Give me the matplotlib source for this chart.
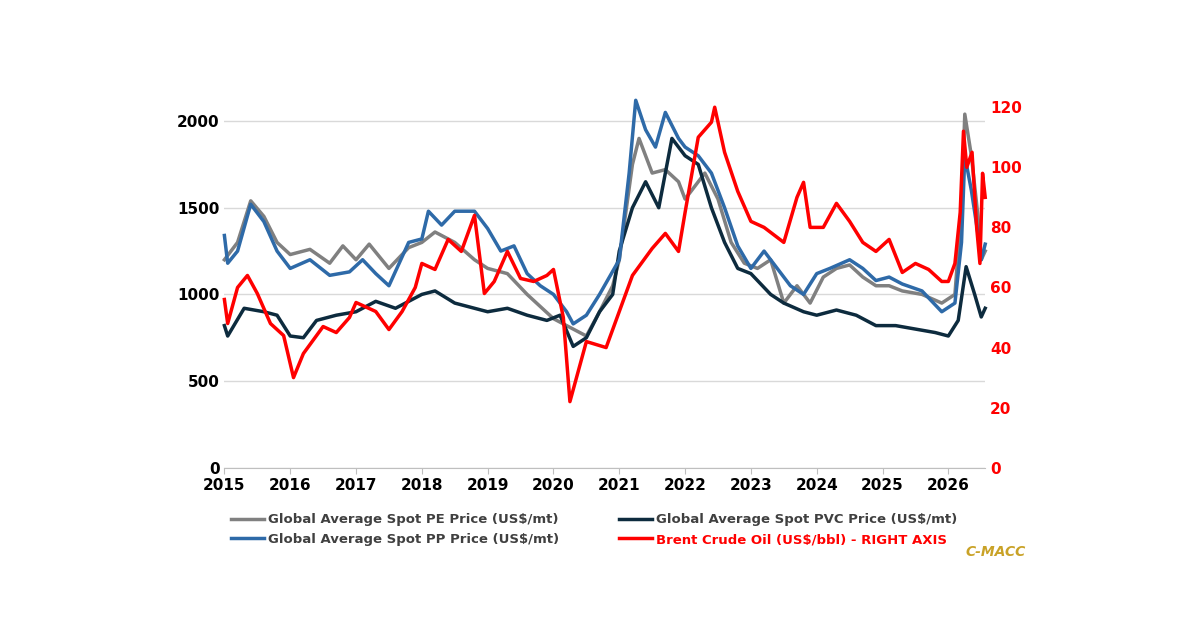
import matplotlib
matplotlib.use("Agg")
import matplotlib.pyplot as plt

pe_t = [2015.0,2015.2,2015.4,2015.6,2015.8,2016.0,2016.3,2016.6,2016.8,2017.0,2017.2,2017.5,2017.8,2018.0,2018.2,2018.5,2018.8,2019.0,2019.3,2019.6,2019.8,2020.0,2020.3,2020.5,2020.7,2020.9,2021.0,2021.2,2021.3,2021.5,2021.7,2021.9,2022.0,2022.3,2022.5,2022.7,2022.9,2023.1,2023.3,2023.5,2023.7,2023.9,2024.1,2024.3,2024.5,2024.7,2024.9,2025.1,2025.3,2025.6,2025.9,2026.1,2026.2,2026.25,2026.35,2026.45,2026.5,2026.56]
pe_v = [1200,1300,1540,1450,1300,1230,1260,1180,1280,1200,1290,1150,1270,1300,1360,1300,1200,1150,1120,1000,930,860,800,760,900,1050,1200,1750,1900,1700,1720,1650,1550,1700,1550,1300,1180,1150,1200,950,1050,950,1100,1150,1170,1100,1050,1050,1020,1000,950,1000,1500,2040,1800,1450,1200,1250]

pp_t = [2015.0,2015.05,2015.2,2015.4,2015.6,2015.8,2016.0,2016.3,2016.6,2016.9,2017.1,2017.3,2017.5,2017.8,2018.0,2018.1,2018.3,2018.5,2018.8,2019.0,2019.2,2019.4,2019.6,2019.8,2020.0,2020.2,2020.3,2020.5,2020.7,2021.0,2021.15,2021.25,2021.4,2021.55,2021.7,2021.9,2022.0,2022.2,2022.4,2022.6,2022.8,2023.0,2023.2,2023.4,2023.6,2023.8,2024.0,2024.2,2024.5,2024.7,2024.9,2025.1,2025.3,2025.6,2025.9,2026.1,2026.2,2026.25,2026.35,2026.45,2026.5,2026.56]
pp_v = [1340,1180,1250,1520,1420,1250,1150,1200,1110,1130,1200,1120,1050,1300,1320,1480,1400,1480,1480,1380,1250,1280,1120,1050,1000,900,830,880,1000,1200,1700,2120,1950,1850,2050,1900,1850,1800,1700,1500,1280,1150,1250,1150,1050,1000,1120,1150,1200,1150,1080,1100,1060,1020,900,950,1300,1800,1600,1350,1200,1290]

pvc_t = [2015.0,2015.05,2015.3,2015.6,2015.8,2016.0,2016.2,2016.4,2016.7,2017.0,2017.3,2017.6,2017.8,2018.0,2018.2,2018.5,2018.8,2019.0,2019.3,2019.6,2019.9,2020.1,2020.3,2020.5,2020.7,2020.9,2021.0,2021.2,2021.4,2021.6,2021.8,2022.0,2022.2,2022.4,2022.6,2022.8,2023.0,2023.3,2023.5,2023.8,2024.0,2024.3,2024.6,2024.9,2025.2,2025.5,2025.8,2026.0,2026.15,2026.27,2026.4,2026.5,2026.56]
pvc_v = [820,760,920,900,880,760,750,850,880,900,960,920,960,1000,1020,950,920,900,920,880,850,880,700,750,900,1000,1250,1500,1650,1500,1900,1800,1750,1500,1300,1150,1120,1000,950,900,880,910,880,820,820,800,780,760,850,1160,1000,870,920]

brent_t = [2015.0,2015.05,2015.2,2015.35,2015.5,2015.7,2015.9,2016.05,2016.2,2016.5,2016.7,2016.9,2017.0,2017.3,2017.5,2017.7,2017.9,2018.0,2018.2,2018.4,2018.6,2018.8,2018.95,2019.1,2019.3,2019.5,2019.7,2019.9,2020.0,2020.15,2020.25,2020.35,2020.5,2020.8,2021.0,2021.2,2021.5,2021.7,2021.9,2022.0,2022.2,2022.4,2022.45,2022.6,2022.8,2023.0,2023.2,2023.5,2023.7,2023.8,2023.9,2024.1,2024.3,2024.5,2024.7,2024.9,2025.1,2025.3,2025.5,2025.7,2025.9,2026.0,2026.1,2026.18,2026.23,2026.28,2026.36,2026.43,2026.48,2026.52,2026.56]
brent_v = [56,48,60,64,58,48,44,30,38,47,45,50,55,52,46,52,60,68,66,76,72,84,58,62,72,63,62,64,66,50,22,30,42,40,52,64,73,78,72,85,110,115,120,105,92,82,80,75,90,95,80,80,88,82,75,72,76,65,68,66,62,62,68,85,112,100,105,80,68,98,90]

fig = plt.figure(figsize=(12, 6.27), dpi=100)
ax = fig.add_axes([0.187, 0.254, 0.634, 0.575])
ax2 = ax.twinx()

ax.plot(pe_t, pe_v, color="#808080", lw=2.5, label="Global Average Spot PE Price (US$/mt)", clip_on=False)
ax.plot(pvc_t, pvc_v, color="#0d2b3e", lw=2.5, label="Global Average Spot PVC Price (US$/mt)", clip_on=False)
ax.plot(pp_t, pp_v, color="#2e6aa8", lw=2.5, label="Global Average Spot PP Price (US$/mt)", clip_on=False)
ax2.plot(brent_t, brent_v, color="#ff0000", lw=2.5, label="Brent Crude Oil (US$/bbl) - RIGHT AXIS", clip_on=False)

ax.set_xlim(2015, 2026.56)
ax.set_ylim(0, 2080)
ax2.set_ylim(0, 120)
ax.set_xticks(range(2015, 2027))
ax.set_yticks([0, 500, 1000, 1500, 2000])
ax2.set_yticks([0, 20, 40, 60, 80, 100, 120])
ax.grid(axis="y", color="#d9d9d9", lw=1)
ax.set_axisbelow(True)
for a in (ax, ax2):
    for s in ("top", "left", "right"):
        a.spines[s].set_visible(False)
ax.spines["bottom"].set_color("#bfbfbf")
ax2.spines["bottom"].set_visible(False)
ax.tick_params(axis="y", length=0, labelsize=11)
ax.tick_params(axis="x", length=4, color="#bfbfbf", labelsize=11)
ax2.tick_params(axis="y", length=0, labelsize=11, colors="#ff0000")
for lab in ax.get_xticklabels() + ax.get_yticklabels() + ax2.get_yticklabels():
    lab.set_fontweight("bold")

h1, l1 = ax.get_legend_handles_labels()
h2, l2 = ax2.get_legend_handles_labels()
handles = [h1[0], h1[2], h1[1], h2[0]]
labels = [l1[0], l1[2], l1[1], l2[0]]
leg = fig.legend(handles, labels, ncol=2, loc="upper center", bbox_to_anchor=(0.495, 0.20),
                 frameon=False, prop={"weight": "bold", "size": 9.5}, columnspacing=4.5,
                 handlelength=2.5, handletextpad=0.3, labelspacing=0.5)
for t in leg.get_texts():
    t.set_color("#404040")
leg.get_texts()[3].set_color("#ff0000")
fig.text(0.855, 0.114, "C-MACC", color="#c9a227", fontsize=10, fontweight="bold", style="italic", ha="right")
fig.savefig("out.png", dpi=100)
